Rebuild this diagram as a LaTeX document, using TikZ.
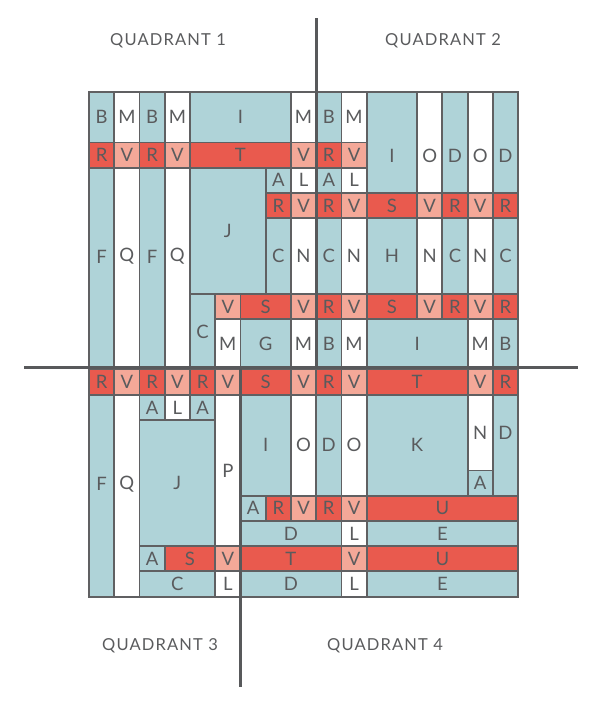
\documentclass[tikz,border=0pt]{standalone}
\usepackage{fontspec}
\setmainfont{Lato}
\newfontfamily\quadfam[LetterSpace=7]{Lato}
\usepackage{tikz}
\usetikzlibrary{positioning}

\definecolor{cblue}{HTML}{AFD3D8}
\definecolor{cred}{HTML}{E95A4E}
\definecolor{cpink}{HTML}{F4A898}
\definecolor{lineg}{HTML}{606062}
\definecolor{axisg}{HTML}{58595B}
\definecolor{txt}{HTML}{5A5B5D}

\newcommand{\cellfont}{\fontsize{18.5}{20}\selectfont}
\newcommand{\quadfont}{\quadfam\fontsize{16.5}{18}\selectfont}

\begin{document}
\begin{tikzpicture}[
  x=1pt, y=-1pt,
  cell/.style={draw=lineg, line width=1.8pt, inner sep=0pt, outer sep=0pt,
               anchor=north west},
  celltext/.style={text=txt, font=\cellfont, inner sep=0pt},
  quad/.style={text=txt, font=\quadfont},
  axis/.style={draw=axisg, line width=3.5pt}
]
\useasboundingbox (0,0) rectangle (600,705);

% cells: name/col/row/width/height/colour/letter/text shift
\foreach \n/\c/\r/\w/\h/\s/\t/\o in {
  b1/0/0/1/2/cblue/B/0, m1/1/0/1/2/white/M/0, b2/2/0/1/2/cblue/B/0,
  m2/3/0/1/2/white/M/0, i1/4/0/4/2/cblue/I/0, m3/8/0/1/2/white/M/0,
  r1/0/2/1/1/cred/R/0, v1/1/2/1/1/cpink/V/0, r2/2/2/1/1/cred/R/0,
  v2/3/2/1/1/cpink/V/0, t1/4/2/4/1/cred/T/0, v3/8/2/1/1/cpink/V/0,
  f1/0/3/1/8/cblue/F/12, q1/1/3/1/8/white/Q/12, f2/2/3/1/8/cblue/F/12,
  q2/3/3/1/8/white/Q/12, j1/4/3/3/5/cblue/J/0,
  a1/7/3/1/1/cblue/A/0, l1/8/3/1/1/white/L/0,
  r3/7/4/1/1/cred/R/0, v4/8/4/1/1/cpink/V/0,
  c1/7/5/1/3/cblue/C/0, n1/8/5/1/3/white/N/0,
  c2/4/8/1/3/cblue/C/0, v5/5/8/1/1/cpink/V/0, s1/6/8/2/1/cred/S/0,
  v6/8/8/1/1/cpink/V/0, m4/5/9/1/2/white/M/0, g1/6/9/2/2/cblue/G/0,
  m5/8/9/1/2/white/M/0,
  b3/9/0/1/2/cblue/B/0, m6/10/0/1/2/white/M/0, i2/11/0/2/4/cblue/I/-13,
  o1/13/0/1/4/white/O/-13, d1/14/0/1/4/cblue/D/-13,
  o2/15/0/1/4/white/O/-13, d2/16/0/1/4/cblue/D/-13,
  r4/9/2/1/1/cred/R/0, v7/10/2/1/1/cpink/V/0,
  a2/9/3/1/1/cblue/A/0, l2/10/3/1/1/white/L/0,
  r5/9/4/1/1/cred/R/0, v8/10/4/1/1/cpink/V/0, s2/11/4/2/1/cred/S/0,
  v9/13/4/1/1/cpink/V/0, r6/14/4/1/1/cred/R/0, v10/15/4/1/1/cpink/V/0,
  r7/16/4/1/1/cred/R/0,
  c3/9/5/1/3/cblue/C/0, n2/10/5/1/3/white/N/0, h1/11/5/2/3/cblue/H/0,
  n3/13/5/1/3/white/N/0, c4/14/5/1/3/cblue/C/0, n4/15/5/1/3/white/N/0,
  c5/16/5/1/3/cblue/C/0,
  r8/9/8/1/1/cred/R/0, v11/10/8/1/1/cpink/V/0, s3/11/8/2/1/cred/S/0,
  v12/13/8/1/1/cpink/V/0, r9/14/8/1/1/cred/R/0, v13/15/8/1/1/cpink/V/0,
  r10/16/8/1/1/cred/R/0,
  b4/9/9/1/2/cblue/B/0, m7/10/9/1/2/white/M/0, i3/11/9/4/2/cblue/I/0,
  m8/15/9/1/2/white/M/0, b5/16/9/1/2/cblue/B/0,
  r11/0/11/1/1/cred/R/0, v14/1/11/1/1/cpink/V/0, r12/2/11/1/1/cred/R/0,
  v15/3/11/1/1/cpink/V/0, r13/4/11/1/1/cred/R/0, v16/5/11/1/1/cpink/V/0,
  s4/6/11/2/1/cred/S/0, v17/8/11/1/1/cpink/V/0, r14/9/11/1/1/cred/R/0,
  v18/10/11/1/1/cpink/V/0, t2/11/11/4/1/cred/T/0, v19/15/11/1/1/cpink/V/0,
  r15/16/11/1/1/cred/R/0,
  f3/0/12/1/8/cblue/F/12, q3/1/12/1/8/white/Q/12,
  a3/2/12/1/1/cblue/A/0, l3/3/12/1/1/white/L/0, a4/4/12/1/1/cblue/A/0,
  j2/2/13/3/5/cblue/J/0, p1/5/12/1/6/white/P/0,
  a5/2/18/1/1/cblue/A/0, s5/3/18/2/1/cred/S/0, v20/5/18/1/1/cpink/V/0,
  c6/2/19/3/1/cblue/C/0, l4/5/19/1/1/white/L/0,
  i4/6/12/2/4/cblue/I/0, o3/8/12/1/4/white/O/0, d3/9/12/1/4/cblue/D/0,
  o4/10/12/1/4/white/O/0, k1/11/12/4/4/cblue/K/0, n5/15/12/1/3/white/N/0,
  a6/15/15/1/1/cblue/A/0, d4/16/12/1/4/cblue/D/12,
  a7/6/16/1/1/cblue/A/0, r16/7/16/1/1/cred/R/0, v21/8/16/1/1/cpink/V/0,
  r17/9/16/1/1/cred/R/0, v22/10/16/1/1/cpink/V/0, u1/11/16/6/1/cred/U/0,
  d5/6/17/4/1/cblue/D/0, l5/10/17/1/1/white/L/0, e1/11/17/6/1/cblue/E/0,
  t3/6/18/4/1/cred/T/0, v23/10/18/1/1/cpink/V/0, u2/11/18/6/1/cred/U/0,
  d6/6/19/4/1/cblue/D/0, l6/10/19/1/1/white/L/0, e2/11/19/6/1/cblue/E/0}
  \node[cell, fill=\s, minimum width=\w*25.24pt, minimum height=\h*25.23pt,
        label={[celltext, yshift=\o pt]center:\t}]
    (\n) at ({89+\c*25.24},{92+\r*25.23}) {};

% axes
\coordinate (hl) at (24,367.5);
\coordinate (hr) at (578,367.5);
\coordinate (vt) at (316.5,18);
\coordinate (vm) at (316.5,367.5);
\coordinate (lt) at (240.4,367.5);
\coordinate (lb) at (240.4,687);
\draw[axis] (hl) -- (hr);
\draw[axis] (vt) -- (vm);
\draw[axis] (lt) -- (lb);

\node[quad] (quad1) at (168,41) {QUADRANT 1};
\node[quad] (quad2) at (443,41) {QUADRANT 2};
\node[quad] (quad3) at (160,646) {QUADRANT 3};
\node[quad] (quad4) at (385,646) {QUADRANT 4};
\end{tikzpicture}
\end{document}
